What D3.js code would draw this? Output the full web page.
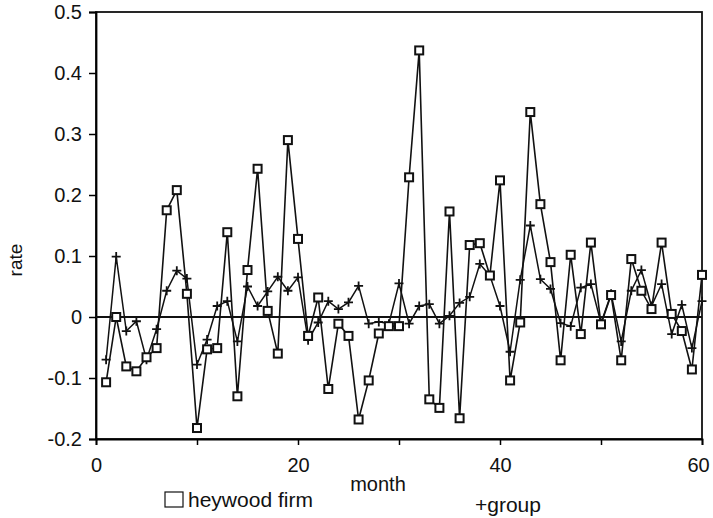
<!DOCTYPE html>
<html>
<head>
<meta charset="utf-8">
<script src="https://cdn.jsdelivr.net/npm/d3@7"></script>
<style>
  body { margin: 0; background: #fff; }
  svg text { font-family: "Liberation Sans", Arial, sans-serif; fill: #111; }
</style>
</head>
<body>
<script>
//month index, 1..60
var months = d3.range(1, 61);

//heywood firm monthly rate (squares)
var heywood = [
  -0.107, 0.000, -0.081, -0.089, -0.066, -0.051, 0.175, 0.208, 0.038, -0.182,
  -0.053, -0.051, 0.139, -0.130, 0.077, 0.243, 0.010, -0.060, 0.290, 0.128,
  -0.031, 0.032, -0.118, -0.011, -0.031, -0.168, -0.104, -0.027, -0.015, -0.015,
  0.229, 0.437, -0.135, -0.149, 0.173, -0.166, 0.118, 0.121, 0.068, 0.224,
  -0.104, -0.009, 0.336, 0.185, 0.090, -0.071, 0.102, -0.028, 0.122, -0.012,
  0.036, -0.071, 0.095, 0.043, 0.013, 0.122, 0.005, -0.023, -0.086, 0.069
];

//group monthly rate (plus signs)
var group = [
  -0.070, 0.099, -0.023, -0.007, -0.070, -0.020, 0.043, 0.076, 0.063, -0.078,
  -0.037, 0.018, 0.026, -0.040, 0.050, 0.018, 0.042, 0.066, 0.043, 0.065,
  -0.038, -0.009, 0.026, 0.013, 0.024, 0.051, -0.011, -0.008, -0.011, 0.055,
  -0.011, 0.018, 0.021, -0.011, 0.002, 0.023, 0.033, 0.087, 0.068, 0.018,
  -0.057, 0.061, 0.150, 0.062, 0.046, -0.010, -0.015, 0.048, 0.054, -0.010,
  0.038, -0.040, 0.043, 0.077, 0.018, 0.054, -0.028, 0.020, -0.051, 0.026
];

var xTicks = [0, 10, 20, 30, 40, 50, 60];
var xLabels = [0, 20, 40, 60];
var yTicks = [-0.2, -0.1, 0, 0.1, 0.2, 0.3, 0.4, 0.5];

var width = 713, height = 518;
var margin = {top: 12, right: 11, bottom: 79, left: 96};

var svg = d3.select("body").append("svg")
    .attr("width", width)
    .attr("height", height);

var x = d3.scaleLinear().domain([0, 60]).range([margin.left, width - margin.right]);
var y = d3.scaleLinear().domain([-0.2, 0.5]).range([height - margin.bottom, margin.top]);

//frame
svg.append("rect")
    .attr("x", x(0)).attr("y", y(0.5))
    .attr("width", x(60) - x(0)).attr("height", y(-0.2) - y(0.5))
    .attr("fill", "none").attr("stroke", "#111").attr("stroke-width", 1.8);

//y axis
var yAxis = svg.append("g")
    .attr("transform", "translate(" + x(0) + ",0)")
    .call(d3.axisLeft(y).tickValues(yTicks).tickSize(7).tickPadding(7)
        .tickFormat(function(d){ return d === 0 ? "0" : d.toFixed(1); }));
yAxis.select(".domain").attr("stroke-width", 1.8);
yAxis.selectAll(".tick line").attr("stroke-width", 1.5);
yAxis.selectAll("text").attr("font-size", 20);

//x axis
var xAxis = svg.append("g")
    .attr("transform", "translate(0," + y(-0.2) + ")")
    .call(d3.axisBottom(x).tickValues(xTicks).tickSize(6).tickPadding(13)
        .tickFormat(function(d){ return xLabels.indexOf(d) >= 0 ? d : ""; }));
xAxis.select(".domain").attr("stroke-width", 1.8);
xAxis.selectAll(".tick line").attr("stroke-width", 1.5);
xAxis.selectAll("text").attr("font-size", 20)
    .attr("dx", function(d){ return d === 60 ? -4 : 0; });

//zero line
svg.append("line")
    .attr("x1", x(0)).attr("x2", x(60))
    .attr("y1", y(0)).attr("y2", y(0))
    .attr("stroke", "#111").attr("stroke-width", 1.8);

var line = d3.line()
    .x(function(d, i){ return x(months[i]); })
    .y(function(d){ return y(d); });

//group line and plus marks
svg.append("path")
    .datum(group)
    .attr("d", line)
    .attr("fill", "none").attr("stroke", "#111").attr("stroke-width", 1.5);

svg.selectAll(".plus")
    .data(group)
    .enter()
    .append("path")
    .attr("class", "plus")
    .attr("d", function(d, i){
        var cx = x(months[i]), cy = y(d), s = 4.5;
        return "M" + (cx - s) + "," + cy + "H" + (cx + s) + "M" + cx + "," + (cy - s) + "V" + (cy + s);
    })
    .attr("stroke", "#111").attr("stroke-width", 1.8);

//heywood line and square marks
svg.append("path")
    .datum(heywood)
    .attr("d", line)
    .attr("fill", "none").attr("stroke", "#111").attr("stroke-width", 1.6);

svg.selectAll(".sq")
    .data(heywood)
    .enter()
    .append("rect")
    .attr("class", "sq")
    .attr("x", function(d, i){ return x(months[i]) - 4; })
    .attr("y", function(d){ return y(d) - 4; })
    .attr("width", 8).attr("height", 8)
    .attr("fill", "#fff").attr("stroke", "#111").attr("stroke-width", 2);

//axis titles
svg.append("text")
    .attr("transform", "translate(22,260) rotate(-90)")
    .attr("text-anchor", "middle")
    .attr("font-size", 19)
    .text("rate");

svg.append("text")
    .attr("x", 378).attr("y", 491)
    .attr("text-anchor", "middle")
    .attr("font-size", 20)
    .text("month");

//legend
svg.append("rect")
    .attr("x", 165).attr("y", 492)
    .attr("width", 18).attr("height", 15)
    .attr("fill", "none").attr("stroke", "#111").attr("stroke-width", 1.2);

svg.append("text")
    .attr("x", 188).attr("y", 507)
    .attr("font-size", 21)
    .text("heywood firm");

svg.append("text")
    .attr("x", 475).attr("y", 512)
    .attr("font-size", 21)
    .text("+group");
</script>
</body>
</html>
